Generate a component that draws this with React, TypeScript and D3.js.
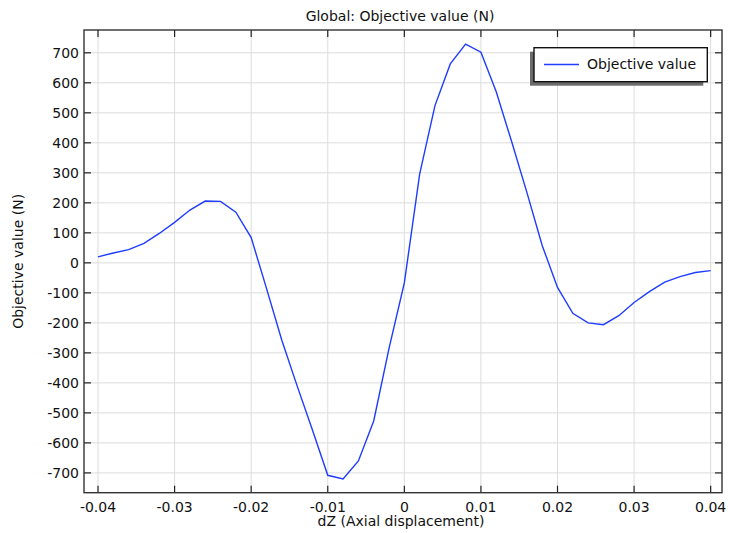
import React from "react";
import * as d3 from "d3";

const xValues = [
  -0.04, -0.038, -0.036, -0.034, -0.032, -0.03, -0.028, -0.026, -0.024, -0.022,
  -0.02, -0.018, -0.016, -0.014, -0.012, -0.01, -0.008, -0.006, -0.004, -0.002,
  0, 0.002, 0.004, 0.006, 0.008, 0.01, 0.012, 0.014, 0.016, 0.018,
  0.02, 0.022, 0.024, 0.026, 0.028, 0.03, 0.032, 0.034, 0.036, 0.038, 0.04,
];
const objectiveValues = [
  20, 33, 44, 65, 98, 135, 176, 206, 205, 169,
  84, -85, -258, -410, -557, -708, -720, -660, -527, -285,
  -67, 296, 524, 663, 729, 702, 570, 405, 235, 58,
  -82, -168, -200, -206, -176, -132, -96, -64, -46, -32, -26,
];
const xTicks = [-0.04, -0.03, -0.02, -0.01, 0, 0.01, 0.02, 0.03, 0.04];
const yTicks = [-700, -600, -500, -400, -300, -200, -100, 0, 100, 200, 300, 400, 500, 600, 700];

const W = 730;
const H = 533;
const left = 84;
const right = 722;
const top = 30;
const bottom = 492.7;
const font = "'DejaVu Sans', sans-serif";
const fs = 14;

export default function App() {
  const x = d3.scaleLinear().domain([-0.04183, 0.04148]).range([left, right]);
  const y = d3.scaleLinear().domain([-766, 776]).range([bottom, top]);
  const line = d3
    .line<number>()
    .x((_, i) => x(xValues[i]))
    .y((d) => y(d));
  const tick = 7;
  const fmtX = (v: number) => (v === 0 ? "0" : d3.format(".2f")(v).replace("−", "-"));
  return (
    <svg
      width={W}
      height={H}
      style={{ position: "absolute", left: 0, top: 0, background: "#fff" }}
      fontFamily={font}
    >
      <rect x={0} y={0} width={W} height={H} fill="#fff" />
      {xTicks.map((t) => (
        <line key={"gx" + t} x1={x(t)} x2={x(t)} y1={top} y2={bottom} stroke="#dcdcdc" strokeWidth={1} />
      ))}
      {yTicks.map((t) => (
        <line key={"gy" + t} x1={left} x2={right} y1={y(t)} y2={y(t)} stroke="#dcdcdc" strokeWidth={1} />
      ))}
      <path d={line(objectiveValues) || ""} fill="none" stroke="#1f3cff" strokeWidth={1.4} />
      {xTicks.map((t) => (
        <g key={"tx" + t}>
          <line x1={x(t)} x2={x(t)} y1={bottom} y2={bottom - tick} stroke="#222" strokeWidth={1.2} />
          <line x1={x(t)} x2={x(t)} y1={top} y2={top + tick} stroke="#222" strokeWidth={1.2} />
          <text x={x(t)} y={511.5} textAnchor="middle" fontSize={fs} fill="#111">
            {fmtX(t)}
          </text>
        </g>
      ))}
      {yTicks.map((t) => (
        <g key={"ty" + t}>
          <line x1={left} x2={left + tick} y1={y(t)} y2={y(t)} stroke="#222" strokeWidth={1.2} />
          <line x1={right} x2={right - tick} y1={y(t)} y2={y(t)} stroke="#222" strokeWidth={1.2} />
          <text x={left - 5} y={y(t)} dy="0.35em" textAnchor="end" fontSize={fs} fill="#111">
            {String(t).replace("−", "-")}
          </text>
        </g>
      ))}
      <rect x={left} y={top} width={right - left} height={bottom - top} fill="none" stroke="#333" strokeWidth={1.4} />
      <text x={(left + right) / 2 - 3} y={21} textAnchor="middle" fontSize={fs} fill="#111">
        Global: Objective value (N)
      </text>
      <text x={(left + right) / 2 - 2} y={526} textAnchor="middle" fontSize={fs} fill="#111">
        dZ (Axial displacement)
      </text>
      <text
        transform={`translate(23, ${(top + bottom) / 2}) rotate(-90)`}
        textAnchor="middle"
        fontSize={fs}
        fill="#111"
      >
        Objective value (N)
      </text>
      <rect x={530} y={51.7} width={173.3} height={34} fill="#6b6b6b" />
      <rect x={534} y={47.7} width={173.3} height={34} fill="#fff" stroke="#111" strokeWidth={1.4} />
      <line x1={544} x2={579} y1={64.5} y2={64.5} stroke="#1f3cff" strokeWidth={1.6} />
      <text x={587} y={64.5} dy="0.35em" fontSize={fs} fill="#111">
        Objective value
      </text>
    </svg>
  );
}
